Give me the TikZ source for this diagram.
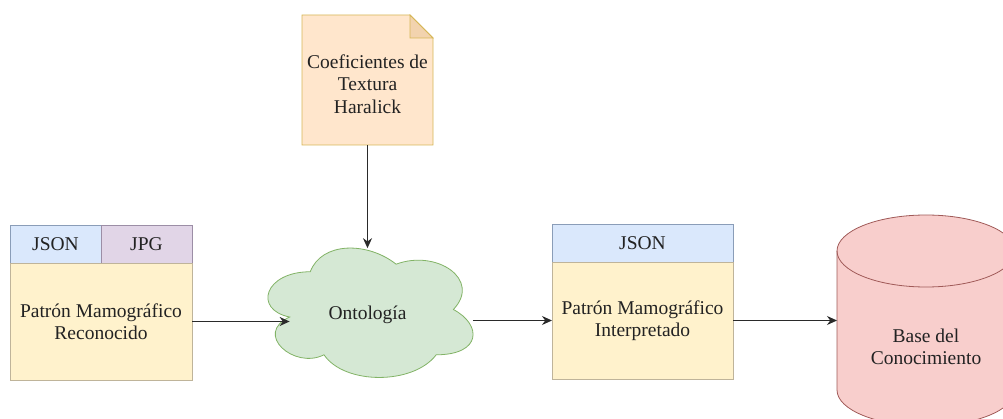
\documentclass[tikz,border=0pt]{standalone}
\usepackage{fontspec}
\setmainfont{Liberation Serif}
\usetikzlibrary{arrows.meta,calc}
\definecolor{jsonfill}{HTML}{DAE8FC}
\definecolor{jsonline}{HTML}{8A9DB8}
\definecolor{jpgfill}{HTML}{E1D5E7}
\definecolor{jpgline}{HTML}{9C8EA6}
\definecolor{yelfill}{HTML}{FFF2CC}
\definecolor{yelline}{HTML}{BFB49A}
\definecolor{notefill}{HTML}{FFE6CC}
\definecolor{notefold}{HTML}{F2D3AE}
\definecolor{noteline}{HTML}{D6B656}
\definecolor{cloudfill}{HTML}{D5E8D4}
\definecolor{cloudline}{HTML}{82B366}
\definecolor{dbfill}{HTML}{F8CECC}
\definecolor{dbline}{HTML}{A05A58}
\definecolor{txt}{HTML}{222222}
\definecolor{arrcol}{HTML}{2A2A2A}
\begin{document}
\begin{tikzpicture}[x=1pt,y=-1pt,
  font=\fontsize{19.5}{21.5}\selectfont,
  every node/.style={text=txt},
  cell/.style={draw, line width=0.8pt, anchor=north west, inner sep=0pt, outer sep=0pt, align=center},
  arr/.style={draw=arrcol, line width=1.3pt, -{Stealth[length=10pt,width=9pt]}},
  txtnode/.style={align=center, inner sep=0pt}
]
\useasboundingbox (0,0) rectangle (1003,419);

% left box
\node[cell, fill=jsonfill, draw=jsonline, minimum width=91pt, minimum height=38pt] (ljson) at (10,225) {JSON};
\node[cell, fill=jpgfill, draw=jpgline, minimum width=91pt, minimum height=38pt] (ljpg) at (101,225) {JPG};
\node[cell, fill=yelfill, draw=yelline, minimum width=182pt, minimum height=117pt] (lbody) at (10,263) {Patrón Mamográfico\\Reconocido};

% middle box
\node[cell, fill=jsonfill, draw=jsonline, minimum width=181pt, minimum height=38pt] (mjson) at (552,224) {JSON};
\node[cell, fill=yelfill, draw=yelline, minimum width=181pt, minimum height=117pt] (mbody) at (552,262) {Patrón Mamográfico\\Interpretado};

% note
\filldraw[fill=notefill, draw=noteline, line width=0.8pt] (302,15) -- (410,15) -- (433,38) -- (433,145) -- (302,145) -- cycle;
\filldraw[fill=notefold, draw=noteline, line width=0.8pt] (410,15) -- (410,38) -- (433,38) -- cycle;
\node[minimum width=131pt, minimum height=130pt, anchor=north west, inner sep=0pt] (note) at (302,15) {};
\node[txtnode, font=\fontsize{19.5}{22.5}\selectfont] (notetext) at (367.5,84) {Coeficientes de\\Textura\\Haralick};

% cloud
\begin{scope}[shift={(253pt,-234pt)}, x=229pt, y=-151pt]
\filldraw[fill=cloudfill, draw=cloudline, line width=0.8pt]
  (0.25,0.25) .. controls (0.05,0.25) and (0,0.5) .. (0.16,0.55)
  .. controls (0,0.66) and (0.18,0.9) .. (0.31,0.8)
  .. controls (0.4,1) and (0.7,1) .. (0.8,0.8)
  .. controls (1,0.8) and (1,0.6) .. (0.875,0.5)
  .. controls (1,0.3) and (0.8,0.1) .. (0.625,0.2)
  .. controls (0.5,0.05) and (0.3,0.05) .. (0.25,0.25) -- cycle;
\coordinate (ontL) at (0.16,0.55);
\coordinate (ontT) at (0.5,0.094);
\coordinate (ontR) at (0.96,0.6);
\node[txtnode] (ont) at (0.5,0.536) {Ontología};
\end{scope}

% cylinder
\filldraw[fill=dbfill, draw=dbline, line width=0.8pt]
  (837,251) -- (837,390) arc[start angle=180, end angle=360, x radius=89pt, y radius=36pt]
  -- (1015,251) arc[start angle=0, end angle=180, x radius=89pt, y radius=36pt] -- cycle;
\draw[dbline, line width=0.8pt] (837,251) arc[start angle=180, end angle=360, x radius=89pt, y radius=36pt];
\node[minimum width=178pt, minimum height=211pt, anchor=north west, inner sep=0pt] (db) at (837,215) {};
\node[txtnode] (dbtext) at (926,347) {Base del\\Conocimiento};

% connectors
\draw[arr] (note.south -| ontT) -- (ontT);
\draw[arr] (lbody.east) -- (lbody.east -| ontL);
\draw[arr] (ontR |- mbody.west) -- (mbody.west);
\draw[arr] (mbody.east) -- (mbody.east -| db.west);
\end{tikzpicture}
\end{document}
